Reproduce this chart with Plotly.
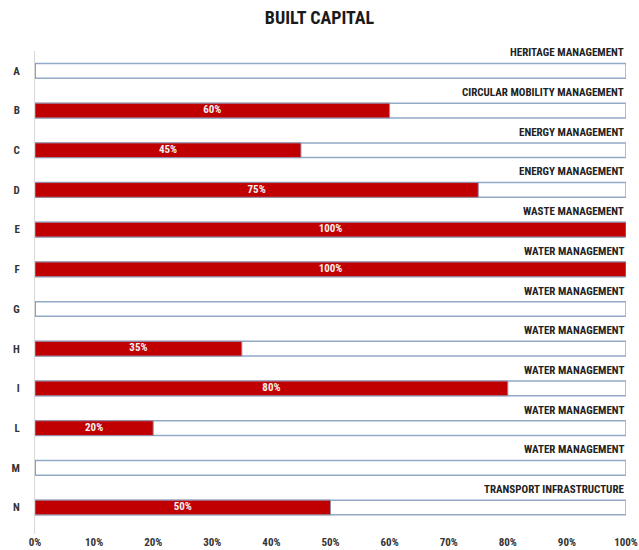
import plotly.graph_objects as go

categories = ["A", "B", "C", "D", "E", "F", "G", "H", "I", "L", "M", "N"]
values = [0, 60, 45, 75, 100, 100, 0, 35, 80, 20, 0, 50]
descriptions = [
    "HERITAGE MANAGEMENT",
    "CIRCULAR MOBILITY MANAGEMENT",
    "ENERGY MANAGEMENT",
    "ENERGY MANAGEMENT",
    "WASTE MANAGEMENT",
    "WATER MANAGEMENT",
    "WATER MANAGEMENT",
    "WATER MANAGEMENT",
    "WATER MANAGEMENT",
    "WATER MANAGEMENT",
    "WATER MANAGEMENT",
    "TRANSPORT INFRASTRUCTURE",
]
full_scale = [100] * len(categories)
tick_vals = [0, 10, 20, 30, 40, 50, 60, 70, 80, 90, 100]

FONT = "Liberation Sans Narrow, Arial Narrow, Roboto Condensed, Open Sans, sans-serif"

fig = go.Figure()
fig.add_trace(go.Bar(
    y=categories, x=full_scale, orientation="h", width=0.37,
    marker=dict(color="white", line=dict(color="#93aac6", width=1.5)),
    hoverinfo="skip", showlegend=False,
))
fig.add_trace(go.Bar(
    y=categories, x=values, orientation="h", width=0.37,
    marker=dict(color="#C00000", line=dict(color="#9a8ca6", width=1)),
    showlegend=False,
))
# value labels centred inside the red bars
lab_cats = [c for c, v in zip(categories, values) if v > 0]
lab_vals = [v for v in values if v > 0]
fig.add_trace(go.Scatter(
    y=lab_cats, x=[v / 2 for v in lab_vals], mode="text",
    text=[f"<b>{v}%</b>" for v in lab_vals],
    textposition="middle center",
    textfont=dict(color="#f4f0f0", size=11, family=FONT),
    hoverinfo="skip", showlegend=False,
))

for c, d in zip(categories, descriptions):
    fig.add_annotation(
        x=100, y=c, xref="x", yref="y", text=f"<b>{d}</b>",
        xanchor="right", yanchor="middle", yshift=18, showarrow=False,
        font=dict(size=11, color="#222222", family=FONT),
    )

fig.update_layout(
    width=639, height=550,
    barmode="overlay",
    paper_bgcolor="white", plot_bgcolor="white",
    margin=dict(l=35, r=13, t=51, b=16),
    title=dict(text="<b>BUILT CAPITAL</b>", x=0.5, xanchor="center", y=0.968, yanchor="middle",
               yref="container",
               font=dict(size=18, color="#1a1a1a", family=FONT)),
    xaxis=dict(range=[0, 100], tickvals=tick_vals, ticktext=[f"<b>{t}%</b>" for t in tick_vals],
               showgrid=False, zeroline=False, showline=False, automargin=False,
               tickfont=dict(size=11, color="#333333", family=FONT)),
    yaxis=dict(categoryorder="array", categoryarray=categories, autorange="reversed",
               ticktext=[f"<b>{c}</b>" for c in categories], tickvals=categories,
               showgrid=False, zeroline=False, showline=True, linecolor="#d9d9d9", linewidth=1,
               ticks="", ticklabelstandoff=12, automargin=False,
               tickfont=dict(size=11, color="#333333", family=FONT)),
)

fig.write_html(
    "out.html",
    config={"displayModeBar": False},
    post_script="document.body.style.margin='0px';document.body.style.overflow='hidden';",
)
